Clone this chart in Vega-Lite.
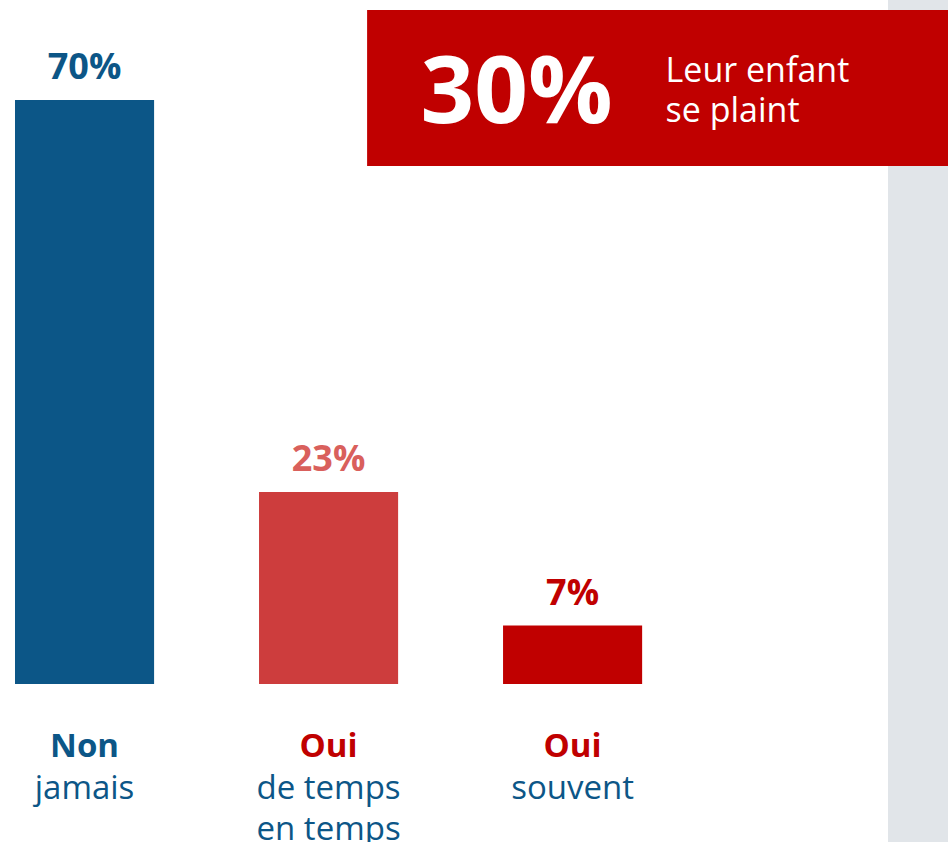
{
  "$schema": "https://vega.github.io/schema/vega-lite/v6.json",
  "width": 888,
  "height": 842,
  "autosize": {"type": "none"},
  "padding": {"left": 0, "top": 0, "right": 60, "bottom": 0},
  "background": "#e1e5e9",
  "config": {"view": {"stroke": null, "fill": "white"}, "font": "Open Sans"},
  "datasets": {
    "reponses": [
      {"cat": "Non jamais", "titre": "Non", "sous": ["jamais"], "valeur": 0.70},
      {"cat": "Oui de temps en temps", "titre": "Oui", "sous": ["de temps", "en temps"], "valeur": 0.23},
      {"cat": "Oui souvent", "titre": "Oui", "sous": ["souvent"], "valeur": 0.07}
    ],
    "resume": [
      {"total": 0.30, "libelle": ["Leur enfant", "se plaint"]}
    ]
  },
  "resolve": {"scale": {"color": "independent"}},
  "layer": [
    {
      "data": {"name": "reponses"},
      "mark": {"type": "bar"},
      "encoding": {
        "x": {"field": "cat", "type": "nominal", "sort": null, "axis": null,
              "scale": {"domain": ["Non jamais", "Oui de temps en temps", "Oui souvent"], "paddingInner": 0.43, "paddingOuter": 0.5345, "align": 0.0575}},
        "y": {"field": "valeur", "type": "quantitative", "axis": null,
              "scale": {"domain": [-0.1894, 0.8199], "zero": false, "nice": false}},
        "color": {"field": "cat", "type": "nominal", "legend": null,
                  "scale": {"domain": ["Non jamais", "Oui de temps en temps", "Oui souvent"], "range": ["#0c5687", "#cd3d3d", "#c00000"]}}
      }
    },
    {
      "data": {"name": "reponses"},
      "mark": {"type": "text", "fontSize": 36, "fontWeight": "bold", "baseline": "alphabetic", "dy": -21},
      "encoding": {
        "x": {"field": "cat", "type": "nominal", "sort": null},
        "y": {"field": "valeur", "type": "quantitative"},
        "text": {"field": "valeur", "type": "quantitative", "format": ".0%"},
        "color": {"field": "cat", "type": "nominal", "legend": null,
                  "scale": {"domain": ["Non jamais", "Oui de temps en temps", "Oui souvent"], "range": ["#0c5687", "#d9605c", "#c00000"]}}
      }
    },
    {
      "data": {"name": "reponses"},
      "mark": {"type": "text", "fontSize": 33, "fontWeight": "bold", "baseline": "alphabetic"},
      "encoding": {
        "x": {"field": "cat", "type": "nominal", "sort": null},
        "y": {"datum": -0.0875, "type": "quantitative"},
        "text": {"field": "titre"},
        "color": {"field": "titre", "type": "nominal", "legend": null,
                  "scale": {"domain": ["Non", "Oui"], "range": ["#0c5687", "#c00000"]}}
      }
    },
    {
      "data": {"name": "reponses"},
      "mark": {"type": "text", "fontSize": 33, "baseline": "alphabetic", "lineHeight": 41, "color": "#0c5687"},
      "encoding": {
        "x": {"field": "cat", "type": "nominal", "sort": null},
        "y": {"datum": -0.1378, "type": "quantitative"},
        "text": {"field": "sous"}
      }
    },
    {
      "data": {"name": "resume"},
      "mark": {"type": "rect", "color": "#c00000"},
      "encoding": {
        "x": {"datum": "Oui de temps en temps", "bandPosition": 0.777},
        "x2": {"value": {"expr": "width + 60"}},
        "y": {"datum": 0.808, "type": "quantitative"},
        "y2": {"datum": 0.621}
      }
    },
    {
      "data": {"name": "resume"},
      "mark": {"type": "text", "fontSize": 94, "fontWeight": "bold", "baseline": "alphabetic", "align": "right", "dx": 40, "color": "white"},
      "encoding": {
        "x": {"datum": "Oui souvent"},
        "y": {"datum": 0.6724, "type": "quantitative"},
        "text": {"field": "total", "type": "quantitative", "format": ".0%"}
      }
    },
    {
      "data": {"name": "resume"},
      "mark": {"type": "text", "fontSize": 34, "baseline": "alphabetic", "align": "left", "dx": 93, "lineHeight": 40, "color": "white"},
      "encoding": {
        "x": {"datum": "Oui souvent"},
        "y": {"datum": 0.7216, "type": "quantitative"},
        "text": {"field": "libelle"}
      }
    }
  ]
}
